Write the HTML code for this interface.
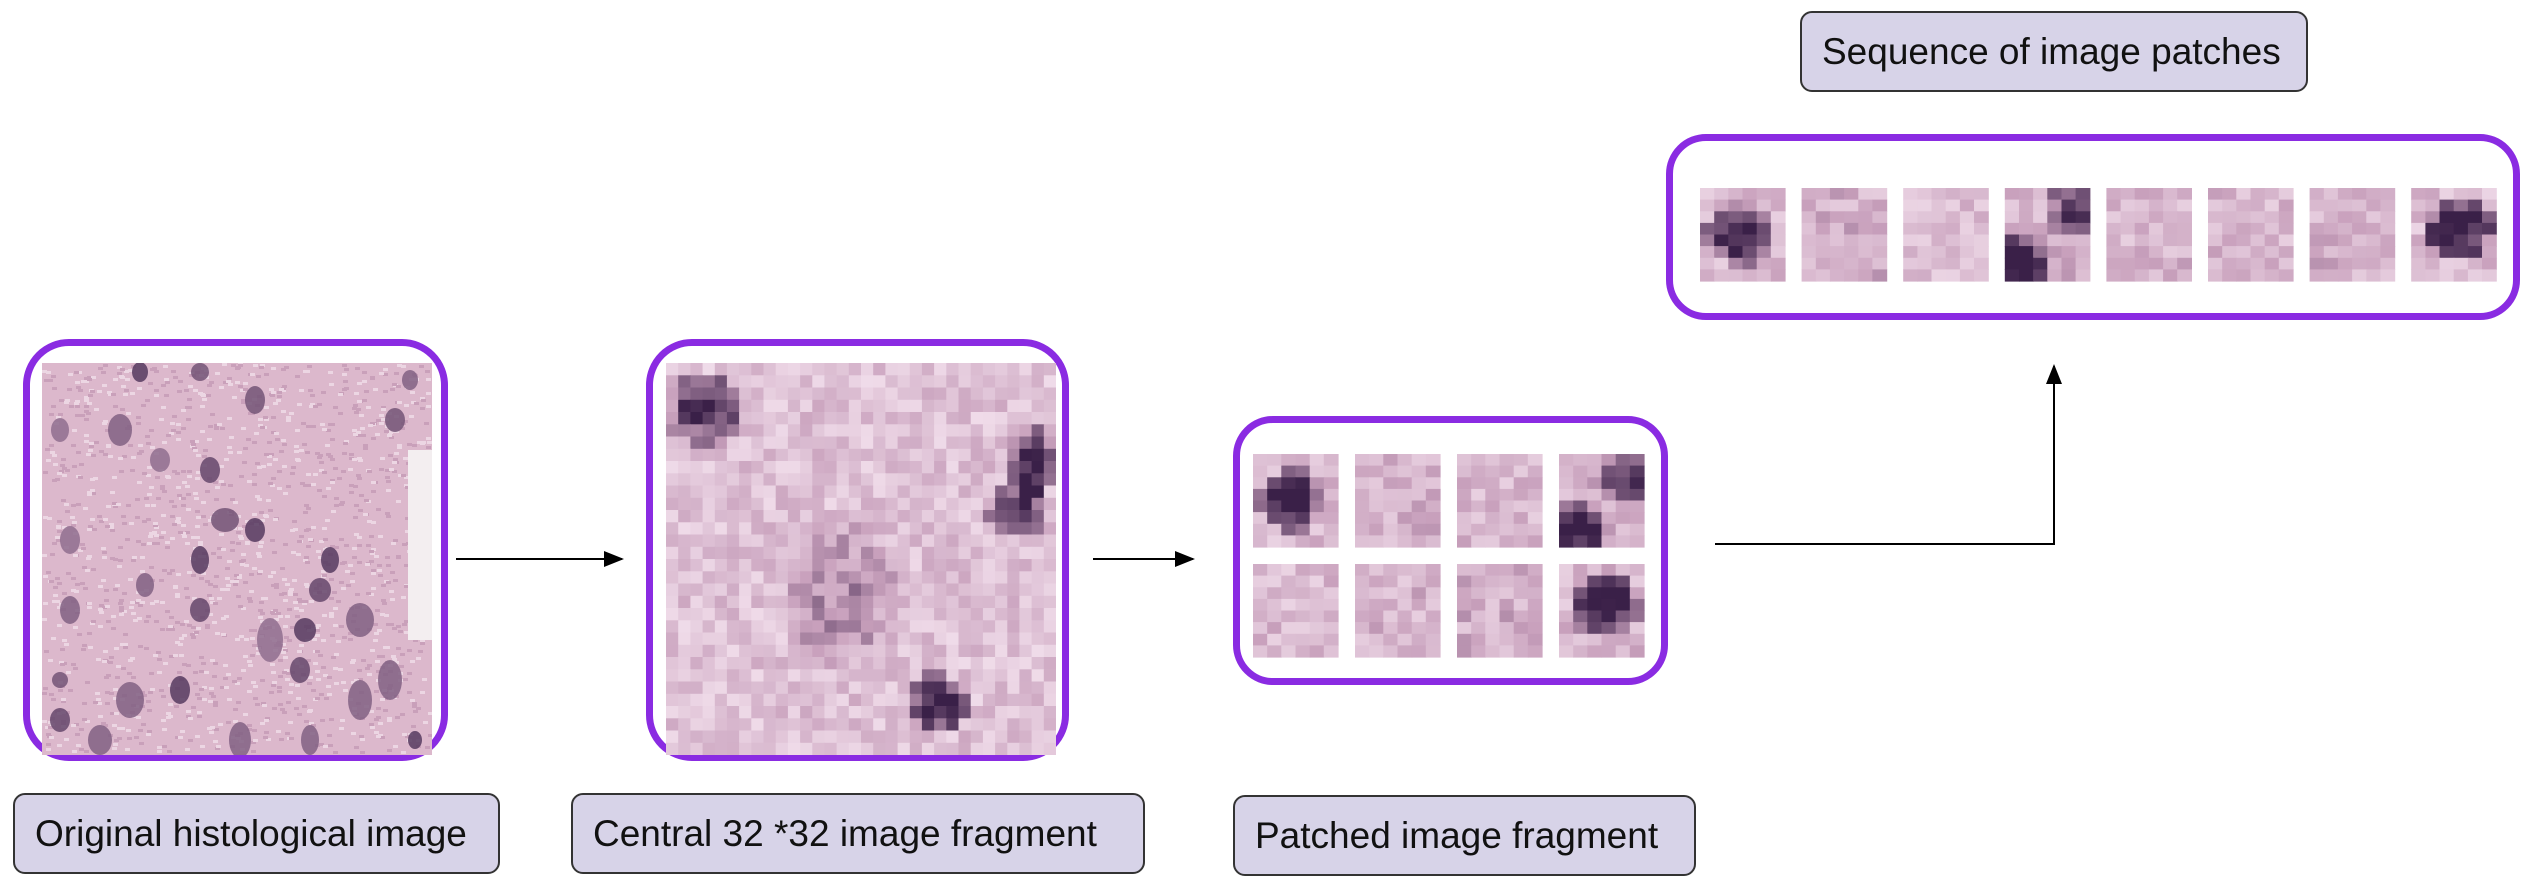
<!DOCTYPE html>
<html><head><meta charset="utf-8"><style>
html,body{margin:0;padding:0;background:#fff;width:2528px;height:884px;overflow:hidden;position:relative;font-family:"Liberation Sans",sans-serif}
.box{position:absolute;border:7px solid #8a2be2;border-radius:46px;box-sizing:border-box;background:#fff}
.lab{position:absolute;background:#d7d3e8;border:2px solid #333;border-radius:12px;box-sizing:border-box;font-size:37px;color:#111;display:flex;align-items:center;padding-left:20px;white-space:nowrap}
svg.abs{position:absolute;left:0;top:0}
</style></head><body>
<div class="box" style="left:23px;top:339px;width:425px;height:422px"></div>
<div class="box" style="left:646px;top:339px;width:423px;height:422px"></div>
<div class="box" style="left:1233px;top:416px;width:435px;height:269px;border-radius:40px"></div>
<div class="box" style="left:1666px;top:134px;width:854px;height:186px;border-radius:40px"></div>
<div class="lab" style="left:13px;top:793px;width:487px;height:81px">Original histological image</div>
<div class="lab" style="left:571px;top:793px;width:574px;height:81px">Central 32 *32 image fragment</div>
<div class="lab" style="left:1233px;top:795px;width:463px;height:81px">Patched image fragment</div>
<div class="lab" style="left:1800px;top:11px;width:508px;height:81px">Sequence of image patches</div>
<svg class="abs" width="2528" height="884" id="s">
<defs><marker id="a" markerWidth="10" markerHeight="8" refX="9" refY="4" orient="auto"><path d="M0,0L10,4L0,8z" fill="#000"/></marker>
<clipPath id="c1"><rect x="42" y="363" width="390" height="392"/></clipPath>
<clipPath id="c2"><rect x="666" y="363" width="390" height="392"/></clipPath></defs>
<line x1="456" y1="559" x2="622" y2="559" stroke="#000" stroke-width="2" marker-end="url(#a)"/>
<line x1="1093" y1="559" x2="1193" y2="559" stroke="#000" stroke-width="2" marker-end="url(#a)"/>
<polyline points="1715,544 2054,544 2054,366" fill="none" stroke="#000" stroke-width="2" marker-end="url(#a)"/>
<g id="g1" clip-path="url(#c1)"></g>
<g id="g2" clip-path="url(#c2)"></g>
<g id="g"></g>
</svg>
<script>
var seed=7;function r(){seed=(seed*16807)%2147483647;return seed/2147483647;}
var out=[];
function col(v){v=Math.max(0,Math.min(1,v));var L=[244,226,238],M=[200,160,188],D=[58,32,72],c;
if(v<.5){var t=v/.5;c=L.map((x,i)=>x+(M[i]-x)*t);}else{var t=(v-.5)/.5;c=M.map((x,i)=>x+(D[i]-x)*t);}
return 'rgb('+c.map(Math.round).join(',')+')';}
function mosaic(x,y,w,h,nc,nr,blobs,base){var cw=w/nc,ch=h/nr;
for(var j=0;j<nr;j++)for(var i=0;i<nc;i++){var u=(i+.5)/nc,vv=(j+.5)/nr,v=base+r()*0.4;
blobs.forEach(function(b){var d=Math.hypot((u-b[0])/b[2],(vv-b[1])/b[3]);if(d<1)v+=b[4]*(1-d*d*0.7);});
out.push('<rect x="'+(x+i*cw).toFixed(1)+'" y="'+(y+j*ch).toFixed(1)+'" width="'+(cw+.6).toFixed(1)+'" height="'+(ch+.6).toFixed(1)+'" fill="'+col(v)+'"/>');}}
// box1 original
out.push('<rect x="42" y="363" width="390" height="392" fill="#dcb8cc"/>');
for(var k=0;k<1600;k++){out.push('<rect x="'+(42+r()*386).toFixed(0)+'" y="'+(363+r()*388).toFixed(0)+'" width="5" height="3" fill="'+(r()<.5?'#ecd6e3':'#c9a0ba')+'"/>');}
out.push('<rect x="408" y="450" width="24" height="190" fill="#f3eef0"/>');
var nuc=[[140,372,8,10,.9],[200,372,9,9,.7],[120,430,12,16,.6],[255,400,10,14,.7],[210,470,10,13,.8],[225,520,14,12,.7],[255,530,10,12,.9],[200,560,9,14,.9],[200,610,10,12,.8],[145,585,9,12,.6],[330,560,9,13,.9],[320,590,11,12,.8],[305,630,11,12,.9],[300,670,10,13,.8],[360,620,14,17,.6],[395,420,10,12,.7],[410,380,8,10,.6],[70,610,10,14,.6],[60,720,10,12,.8],[130,700,14,18,.6],[100,740,12,15,.6],[180,690,10,14,.9],[240,740,11,18,.6],[310,740,9,15,.6],[360,700,12,20,.6],[390,680,12,20,.6],[415,740,7,9,.9],[60,680,8,8,.7],[270,640,13,22,.5],[160,460,10,12,.5],[70,540,10,14,.5],[60,430,9,12,.5]];
nuc.forEach(function(n){out.push('<ellipse cx="'+n[0]+'" cy="'+n[1]+'" rx="'+n[2]+'" ry="'+n[3]+'" fill="'+col(0.45+n[4]*0.5)+'" opacity="0.85"/>');});
document.getElementById('g1').innerHTML=out.join('');out=[];
// box2 32x32
mosaic(666,363,390,392,32,32,[[.1,.12,.1,.1,.7],[.94,.25,.07,.09,.8],[.9,.37,.08,.08,.7],[.7,.87,.08,.08,.85],[.45,.6,.15,.2,.3]],0.05);
document.getElementById('g2').innerHTML=out.join('');out=[];
var pb=[[[.45,.5,.4,.35,.75]],[],[],[[.2,.8,.3,.3,.85],[.8,.25,.3,.3,.65]],[],[],[],[[.55,.45,.45,.35,.8]]];
function patches(x0,y0,pitch,ys){for(var k=0;k<8;k++){var px,py;if(ys){px=x0+(k%4)*pitch;py=ys[Math.floor(k/4)];}else{px=x0+k*pitch;py=y0;}
mosaic(px,py,85,93,6,8,pb[k],0.08+r()*0.1);}}
patches(1253,0,102,[454,564]);
patches(1700,188,101.6,null);
document.getElementById('g').innerHTML=out.join('');
</script>
</body></html>
